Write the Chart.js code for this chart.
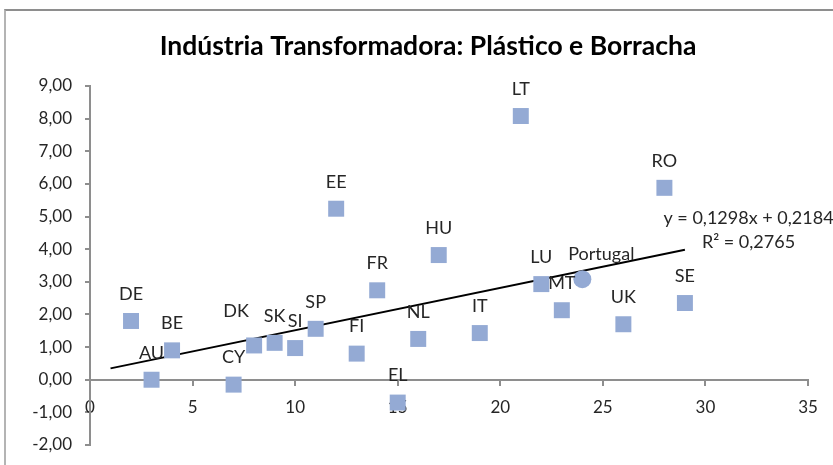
<!DOCTYPE html>
<html>
<head>
<meta charset="utf-8">
<script src="https://cdn.jsdelivr.net/npm/chart.js@4/dist/chart.umd.min.js"></script>
<style>
  body { margin: 0; background: #fff; }
  #wrap { position: relative; width: 833px; height: 465px; }
  #frame { position: absolute; left: 4px; top: 9px; right: 0; bottom: 0;
           border-top: 2px solid #8e8e8e; border-left: 2px solid #b4b4b4; pointer-events: none; }
  canvas { position: absolute; left: 0; top: 0; }
</style>
</head>
<body>
<div id="wrap">
  <canvas id="grafico"></canvas>
  <div id="frame"></div>
</div>
<script>
// dados
const paises = ['DE', 'AU', 'BE', 'CY', 'DK', 'SK', 'SI', 'SP', 'EE', 'FI', 'FR', 'EL', 'NL', 'HU', 'IT', 'LT', 'LU', 'MT', 'UK', 'RO', 'SE']
const valoresX = [2, 3, 4, 7, 8, 9, 10, 11, 12, 13, 14, 15, 16, 17, 19, 21, 22, 23, 26, 28, 29]
const valoresY = [1.80, 0.00, 0.90, -0.15, 1.05, 1.13, 0.97, 1.56, 5.24, 0.80, 2.74, -0.70, 1.25, 3.82, 1.43, 8.08, 2.93, 2.13, 1.70, 5.88, 2.35]
const portugalX = [24]
const portugalY = [3.08]
const ticksX = [0, 5, 10, 15, 20, 25, 30, 35]
const ticksY = [-2, -1, 0, 1, 2, 3, 4, 5, 6, 7, 8, 9]
// linha de tendencia (equacao do excel)
const declive = 0.1298
const ordenada = 0.2184
const tendX = [1, 29]
const textoEq = ['y = 0,1298x + 0,2184', 'R² = 0,2765']
const titulo = 'Indústria Transformadora: Plástico e Borracha'

const corPonto = 'rgb(148,170,212)'
const fonte = 'Lato, "Open Sans", sans-serif'

const pontos = paises.map((p, i) => ({ x: valoresX[i], y: valoresY[i], nome: p }))
const pontosPt = portugalX.map((v, i) => ({ x: v, y: portugalY[i], nome: 'Portugal' }))
const tendencia = tendX.map(v => ({ x: v, y: declive * v + ordenada }))

// ajustes manuais de algumas etiquetas (como no excel)
const ajusteEtiqueta = { DK: [-18, -7], Portugal: [19, 2] }

const etiquetas = {
  id: 'etiquetas',
  afterDatasetsDraw(chart) {
    const ctx = chart.ctx
    ctx.save()
    // titulo (centrado no quadro do excel, nao na area do grafico)
    ctx.font = 'bold 26.5px ' + fonte
    ctx.fillStyle = '#000'
    ctx.textAlign = 'center'
    ctx.textBaseline = 'middle'
    ctx.fillText(titulo, 428, 46)

    ctx.font = '18px ' + fonte
    ctx.fillStyle = '#262626'
    chart.data.datasets.forEach((ds, di) => {
      if (ds.type === 'line') return
      chart.getDatasetMeta(di).data.forEach((el, i) => {
        const nome = ds.data[i].nome
        const aj = ajusteEtiqueta[nome] || [0, 0]
        ctx.fillText(nome, el.x + aj[0], el.y - 27 + aj[1])
      })
    })
    // equacao da tendencia
    const sx = chart.scales.x, sy = chart.scales.y
    const ex = sx.getPixelForValue(32.1)
    const ey = sy.getPixelForValue(4.95)
    ctx.fillText(textoEq[0], ex, ey)
    ctx.fillText(textoEq[1], ex, ey + 24)
    ctx.restore()
  }
}

const ctx = document.getElementById('grafico')

new Chart(ctx, {
  type: 'scatter',
  data: {
    datasets: [{
      data: pontos,
      pointStyle: 'rect',
      pointRadius: 11.3,
      pointHoverRadius: 11.3,
      backgroundColor: corPonto,
      borderWidth: 0
    }, {
      data: pontosPt,
      pointStyle: 'circle',
      pointRadius: 9,
      pointHoverRadius: 9,
      backgroundColor: corPonto,
      borderWidth: 0
    }, {
      type: 'line',
      data: tendencia,
      borderColor: '#000',
      borderWidth: 2,
      pointRadius: 0,
      fill: false
    }]
  },
  options: {
    responsive: true,
    maintainAspectRatio: false,
    animation: false,
    layout: { padding: { left: 0, right: 25, top: 86, bottom: 20 } },
    plugins: {
      legend: { display: false },
      tooltip: { enabled: false },
      title: { display: false }
    },
    scales: {
      x: {
        type: 'linear',
        position: { y: 0 },
        min: 0,
        max: 35,
        afterBuildTicks: s => { s.ticks = ticksX.map(v => ({ value: v })) },
        ticks: { color: '#262626', font: { family: fonte, size: 17 }, padding: 13 },
        grid: { drawOnChartArea: false, tickLength: 5, color: '#8e8e8e', lineWidth: 2 },
        border: { color: '#8e8e8e', width: 2 }
      },
      y: {
        type: 'linear',
        min: -2,
        max: 9,
        afterBuildTicks: s => { s.ticks = ticksY.map(v => ({ value: v })) },
        afterFit: s => { s.width = 90; s.paddingBottom = 0 },
        ticks: {
          color: '#262626',
          font: { family: fonte, size: 17 },
          padding: 13,
          callback: v => v.toFixed(2).replace('.', ',')
        },
        grid: { drawOnChartArea: false, tickLength: 5, color: '#8e8e8e', lineWidth: 2 },
        border: { color: '#8e8e8e', width: 2 }
      }
    }
  },
  plugins: [etiquetas]
})
</script>
</body>
</html>
